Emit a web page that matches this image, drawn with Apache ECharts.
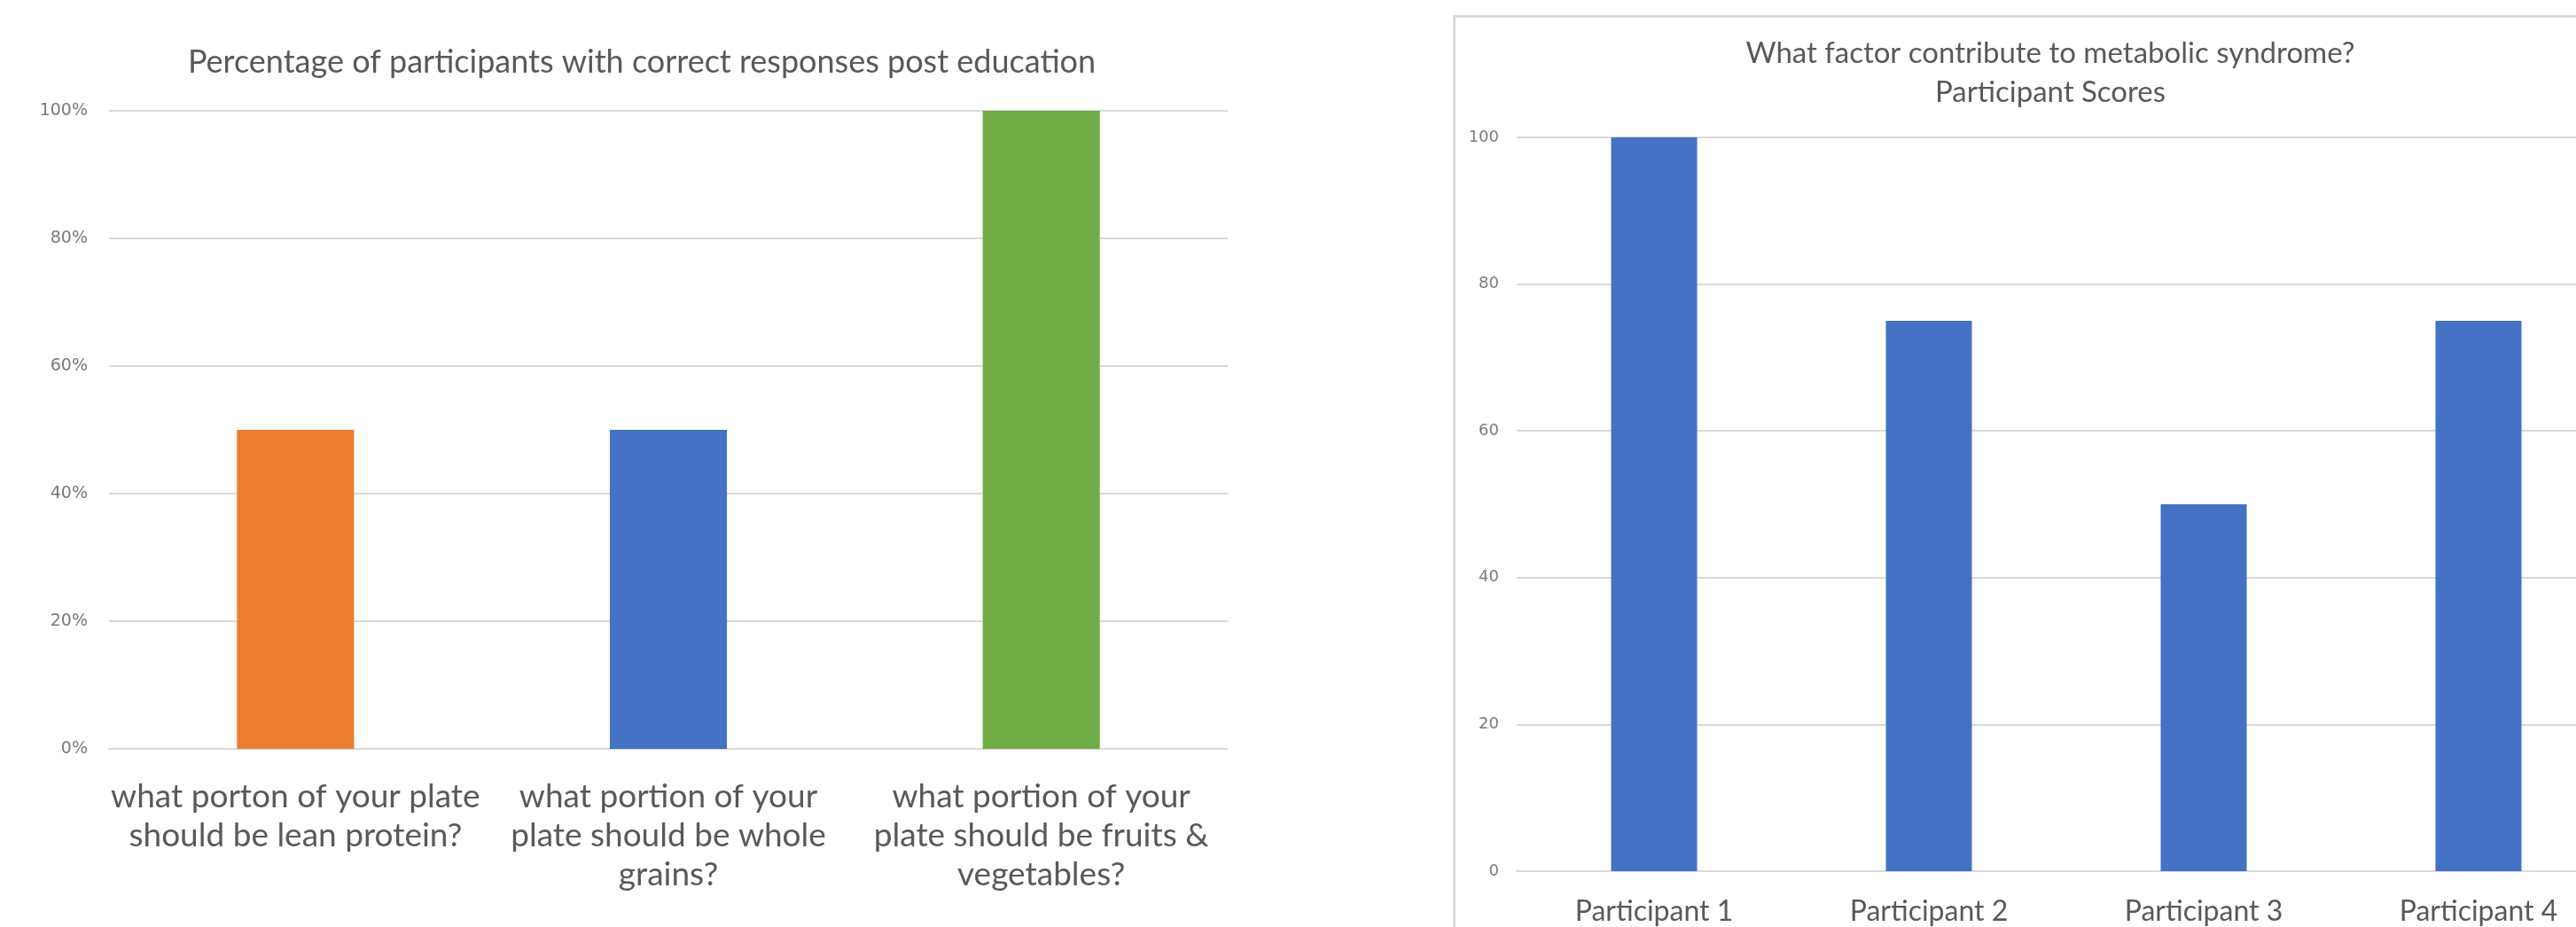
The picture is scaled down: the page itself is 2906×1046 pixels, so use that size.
<!DOCTYPE html>
<html>
<head>
<meta charset="utf-8">
<title>Participant education results</title>
<script src="https://cdn.jsdelivr.net/npm/echarts@6/dist/echarts.min.js"></script>
<style>
  html, body { margin: 0; padding: 0; background: #ffffff; }
  #chart { width: 2906px; height: 1046px; }
</style>
</head>
<body>
<div id="chart"></div>
<script>
// Left panel: share of participants answering correctly after education
const questionCategories = [
  'what porton of your plate should be lean protein?',
  'what portion of your plate should be whole grains?',
  'what portion of your plate should be fruits & vegetables?'
];
const correctPercent = [50, 50, 100];
const questionColors = ['#ED7D31', '#4472C4', '#70AD47'];
const percentTicks = [0, 20, 40, 60, 80, 100];

// Right panel: individual participant scores
const participantCategories = ['Participant 1', 'Participant 2', 'Participant 3', 'Participant 4'];
const participantScores = [100, 75, 50, 75];
const scoreTicks = [0, 20, 40, 60, 80, 100];

const TEXT_FONT = 'Lato, "Open Sans", sans-serif';
const TICK_FONT = '"DejaVu Sans", Verdana, sans-serif';
const GRID_COLOR = '#d9d9d9';

// Word-wrap a label to lines of at most maxChars characters
function wrapWords(text, maxChars) {
  const words = text.split(' ');
  const lines = [];
  let line = '';
  words.forEach(function (w) {
    const next = line ? line + ' ' + w : w;
    if (next.length > maxChars && line) {
      lines.push(line);
      line = w;
    } else {
      line = next;
    }
  });
  if (line) lines.push(line);
  return lines.join('\n');
}

const chart = echarts.init(document.getElementById('chart'), null, { renderer: 'canvas' });

const option = {
  backgroundColor: '#ffffff',
  animation: false,
  title: [
    {
      text: 'Percentage of participants with correct responses post education',
      left: 719,
      top: 47,
      textAlign: 'center',
      textStyle: { fontFamily: TEXT_FONT, fontSize: 36, fontWeight: 'normal', color: '#595959' }
    },
    {
      text: 'What factor contribute to metabolic syndrome?\nParticipant Scores',
      left: 2308,
      top: 33,
      textAlign: 'center',
      textStyle: { fontFamily: TEXT_FONT, fontSize: 33, fontWeight: 'normal', color: '#595959', lineHeight: 44 }
    }
  ],
  graphic: [
    {
      // outline of the right-hand chart panel
      type: 'rect',
      left: 1639,
      top: 17,
      shape: { width: 1400, height: 1200 },
      style: { fill: 'transparent', stroke: GRID_COLOR, lineWidth: 3 },
      silent: true
    }
  ],
  grid: [
    { left: 123, width: 1262, top: 125, bottom: 201, containLabel: false, outerBoundsMode: 'none' },
    // the score panel runs past the right edge of the page
    { left: 1711, width: 1240, top: 155, bottom: 63, containLabel: false, outerBoundsMode: 'none' }
  ],
  xAxis: [
    {
      type: 'category',
      gridIndex: 0,
      data: questionCategories,
      axisLine: { show: true, lineStyle: { color: GRID_COLOR, width: 2 } },
      axisTick: { show: false },
      axisLabel: {
        interval: 0,
        margin: 32,
        fontFamily: TEXT_FONT,
        fontSize: 37,
        lineHeight: 44,
        color: '#595959',
        formatter: function (v) { return wrapWords(v, 25); }
      }
    },
    {
      type: 'category',
      gridIndex: 1,
      data: participantCategories,
      axisLine: { show: true, lineStyle: { color: GRID_COLOR, width: 2 } },
      axisTick: { show: false },
      axisLabel: {
        interval: 0,
        margin: 30,
        fontFamily: TEXT_FONT,
        fontSize: 32,
        color: '#595959'
      }
    }
  ],
  yAxis: [
    {
      type: 'value',
      gridIndex: 0,
      min: percentTicks[0],
      max: percentTicks[percentTicks.length - 1],
      interval: percentTicks[1] - percentTicks[0],
      axisLine: { show: false },
      axisTick: { show: false },
      splitLine: { lineStyle: { color: GRID_COLOR, width: 2 } },
      axisLabel: {
        margin: 24,
        fontFamily: TICK_FONT,
        fontSize: 19,
        color: '#7a7a7a',
        formatter: '{value}%'
      }
    },
    {
      type: 'value',
      gridIndex: 1,
      min: scoreTicks[0],
      max: scoreTicks[scoreTicks.length - 1],
      interval: scoreTicks[1] - scoreTicks[0],
      axisLine: { show: false },
      axisTick: { show: false },
      splitLine: { lineStyle: { color: GRID_COLOR, width: 2 } },
      axisLabel: {
        margin: 20,
        fontFamily: TICK_FONT,
        fontSize: 18,
        color: '#7a7a7a'
      }
    }
  ],
  series: [
    {
      type: 'bar',
      xAxisIndex: 0,
      yAxisIndex: 0,
      barWidth: '31.4%',
      data: correctPercent.map(function (v, i) {
        return { value: v, itemStyle: { color: questionColors[i] } };
      })
    },
    {
      type: 'bar',
      xAxisIndex: 1,
      yAxisIndex: 1,
      barWidth: '31.3%',
      itemStyle: { color: '#4472C4' },
      data: participantScores
    }
  ]
};

chart.setOption(option);
</script>
</body>
</html>
